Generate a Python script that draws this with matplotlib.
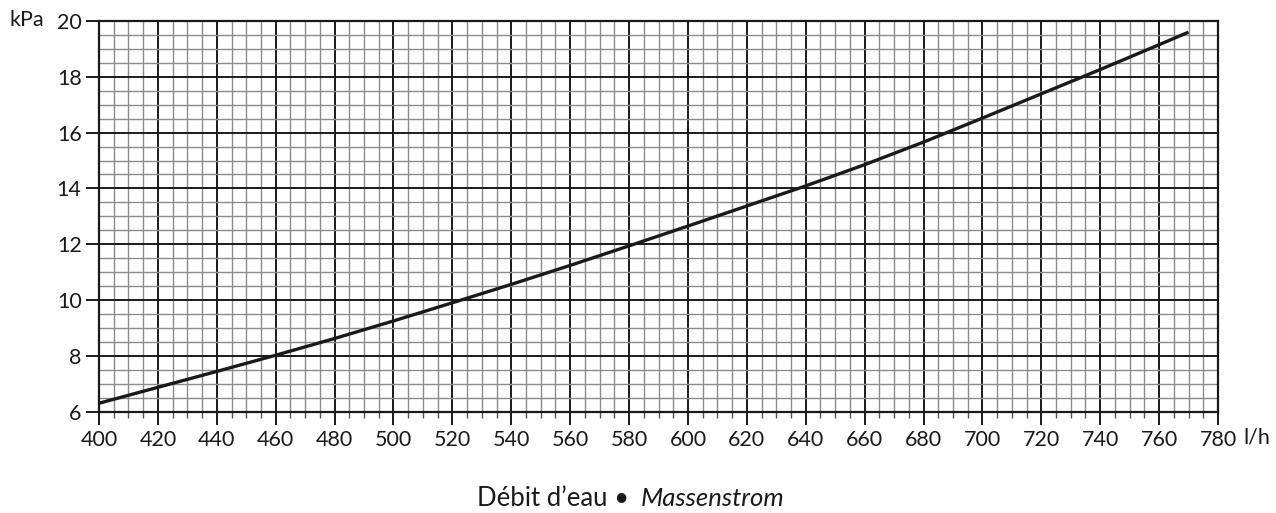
import matplotlib
matplotlib.use("Agg")
import matplotlib.pyplot as plt
from matplotlib.ticker import MultipleLocator
import numpy as np

plt.rcParams['font.family'] = ['Lato', 'DejaVu Sans']

flow = [400, 420, 440, 460, 480, 500, 520, 540, 560, 580, 600, 620, 640,
        660, 680, 700, 720, 740, 760, 770]
pressure = [6.30, 6.87, 7.44, 8.02, 8.62, 9.25, 9.90, 10.56, 11.24, 11.94,
            12.65, 13.37, 14.09, 14.85, 15.66, 16.52, 17.39, 18.26, 19.15, 19.60]
x_ticks = list(range(400, 781, 20))
y_ticks = list(range(6, 21, 2))

fig = plt.figure(figsize=(12.76, 5.13), dpi=100)
ax = fig.add_axes([99/1276, 1-411.6/513, 1119/1276, (411.6-21)/513])

ax.plot(flow, pressure, color='#1a1a1a', lw=2.4, zorder=5, solid_capstyle='butt')

ax.set_xlim(400, 780)
ax.set_ylim(6, 20)
ax.set_xticks(x_ticks)
ax.set_yticks(y_ticks)
ax.xaxis.set_minor_locator(MultipleLocator(5))
ax.yaxis.set_minor_locator(MultipleLocator(0.5))
ax.set_axisbelow(True)
ax.grid(which='major', color='#1a1a1a', lw=1.4)
ax.grid(which='minor', color='#8c8c8c', lw=1.0)

ax.tick_params(axis='both', which='major', direction='out', length=9.5, width=1.4,
               color='#1a1a1a', labelsize=15.5, labelcolor='#1a1a1a')
ax.tick_params(axis='x', which='major', pad=4)
ax.tick_params(axis='y', which='major', pad=3)
ax.tick_params(axis='x', which='minor', direction='out', length=4.5, width=1.0, color='#555555')
ax.tick_params(axis='y', which='minor', length=0)
for s in ax.spines.values():
    s.set_linewidth(1.6)
    s.set_color('#1a1a1a')

fig.text(27/1276, 1-20/513, 'kPa', ha='center', va='center', fontsize=15.5, color='#1a1a1a')
fig.text(1257/1276, 1-438/513, 'l/h', ha='center', va='center', fontsize=15.5, color='#1a1a1a')
fig.text(629/1276, 1-506/513, 'Débit d\u2019eau \u2022', ha='right', va='baseline',
         fontsize=18.5, color='#1a1a1a')
fig.text(641/1276, 1-506/513, 'Massenstrom', ha='left', va='baseline', fontsize=18.5,
         style='italic', color='#1a1a1a')

fig.savefig('out.png', dpi=100)
